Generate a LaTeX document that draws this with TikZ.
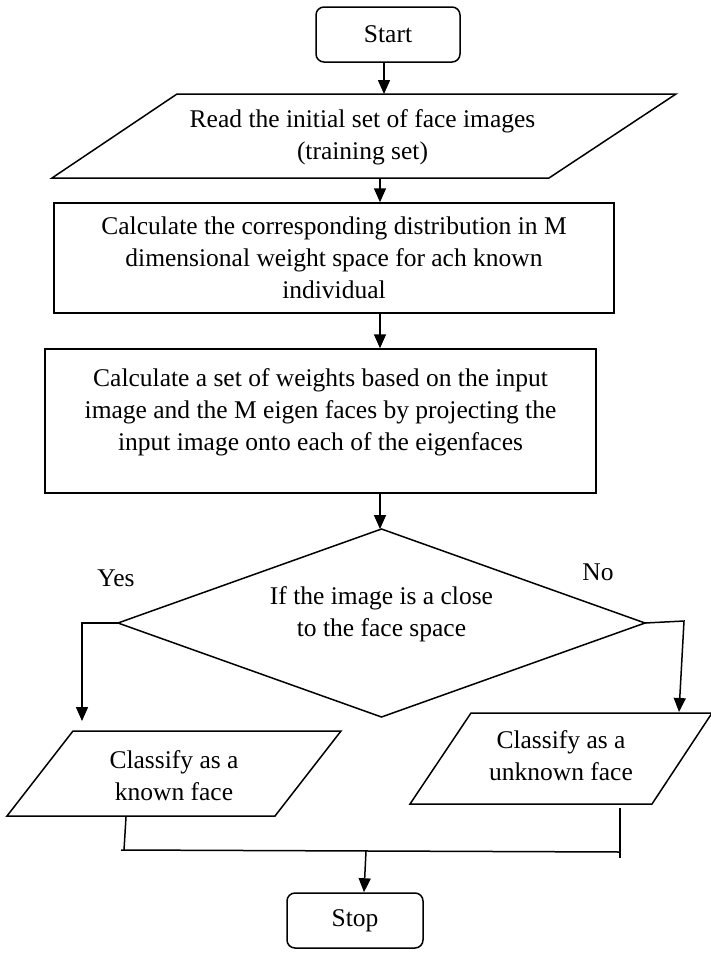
\documentclass[tikz,border=0pt]{standalone}
\usepackage{fontspec}
\setmainfont{Liberation Serif}
\usetikzlibrary{arrows.meta}
\begin{document}
\begin{tikzpicture}[x=1pt,y=-1pt,
  every node/.style={font=\fontsize{25.5}{32}\selectfont},
  ln/.style={line width=1.5pt},
  arr/.style={ln,-{Triangle[length=14pt,width=12pt]}},
  rbox/.style={draw, ln, rounded corners=8pt, minimum height=55pt, inner sep=0pt},
  pbox/.style={draw, ln, inner sep=0pt},
  txt/.style={align=center, inner sep=0pt}]
\useasboundingbox (0,0) rectangle (710,964);
\fill[white] (0,0) rectangle (710,964);

% Start
\node[rbox, minimum width=144pt] (start) at (388,34.5) {Start};

% input parallelogram
\coordinate (p1a) at (177,94); \coordinate (p1b) at (676,94);
\coordinate (p1c) at (549,178); \coordinate (p1d) at (52,178);
\draw[ln] (p1a) -- (p1b) -- (p1c) -- (p1d) -- cycle;
\node[txt] (read) at (362.5,137) {Read the initial set of face images\\(training set)};

% boxes
\node[pbox, minimum width=560pt, minimum height=110pt, align=center] (calc1) at (334,258)
  {Calculate the corresponding distribution in M\\dimensional weight space for ach known\\individual};
\node[pbox, minimum width=551pt, minimum height=144pt] (calc2) at (320.5,421) {};
\node[txt] (calc2t) at (320.5,412) {Calculate a set of weights based on the input\\image and the M eigen faces by projecting the\\input image onto each of the eigenfaces};

% decision
\coordinate (dtop) at (381.5,529); \coordinate (dright) at (645,623);
\coordinate (dbot) at (381.5,717); \coordinate (dleft) at (118,623);
\draw[ln] (dtop) -- (dright) -- (dbot) -- (dleft) -- cycle;
\node[txt] (dec) at (381.5,614) {If the image is a close\\to the face space};
\node[txt] (yes) at (116,578) {Yes};
\node[txt] (no) at (598,572) {No};

% outputs
\coordinate (laa) at (73,731); \coordinate (lab) at (341,731);
\coordinate (lac) at (275,816); \coordinate (lad) at (7,816);
\draw[ln] (laa) -- (lab) -- (lac) -- (lad) -- cycle;
\node[txt] (known) at (174,776) {Classify as a\\known face};

\coordinate (raa) at (471,713); \coordinate (rab) at (712,713);
\coordinate (rac) at (652,804); \coordinate (rad) at (410,804);
\draw[ln] (raa) -- (rab) -- (rac) -- (rad) -- cycle;
\node[txt] (unknown) at (561,756) {Classify as a\\unknown face};

% Stop
\node[rbox, minimum width=136pt] (stop) at (355,920.5) {Stop};

% connectors
\coordinate (ax) at (380,0);
\coordinate (s1) at (384,94);
\draw[arr] ([xshift=-4pt]start.south) -- (s1);
\draw[arr] (ax |- p1d) -- (ax |- calc1.north);
\draw[arr] (ax |- calc1.south) -- (ax |- calc2.north);
\draw[arr] (ax |- calc2.south) -- (dtop -| ax);

\coordinate (lk) at (82,623); \coordinate (lt) at (82,721);
\draw[arr] (dleft) -- (lk) -- (lt);
\coordinate (rk) at (684,621); \coordinate (rt) at (679,712);
\draw[arr] (dright) -- (rk) -- (rt);

\coordinate (lb1) at (126,817); \coordinate (lb2) at (124,850);
\coordinate (rb1) at (620,808); \coordinate (rb2) at (620,858);
\coordinate (h1) at (121,850); \coordinate (h2) at (620,852);
\coordinate (m1) at (366,851);
\draw[ln] (lb1) -- (lb2);
\draw[ln] (rb1) -- (rb2);
\draw[ln] (h1) -- (h2);
\draw[arr] (m1) -- ([xshift=9pt]stop.north);
\end{tikzpicture}
\end{document}
